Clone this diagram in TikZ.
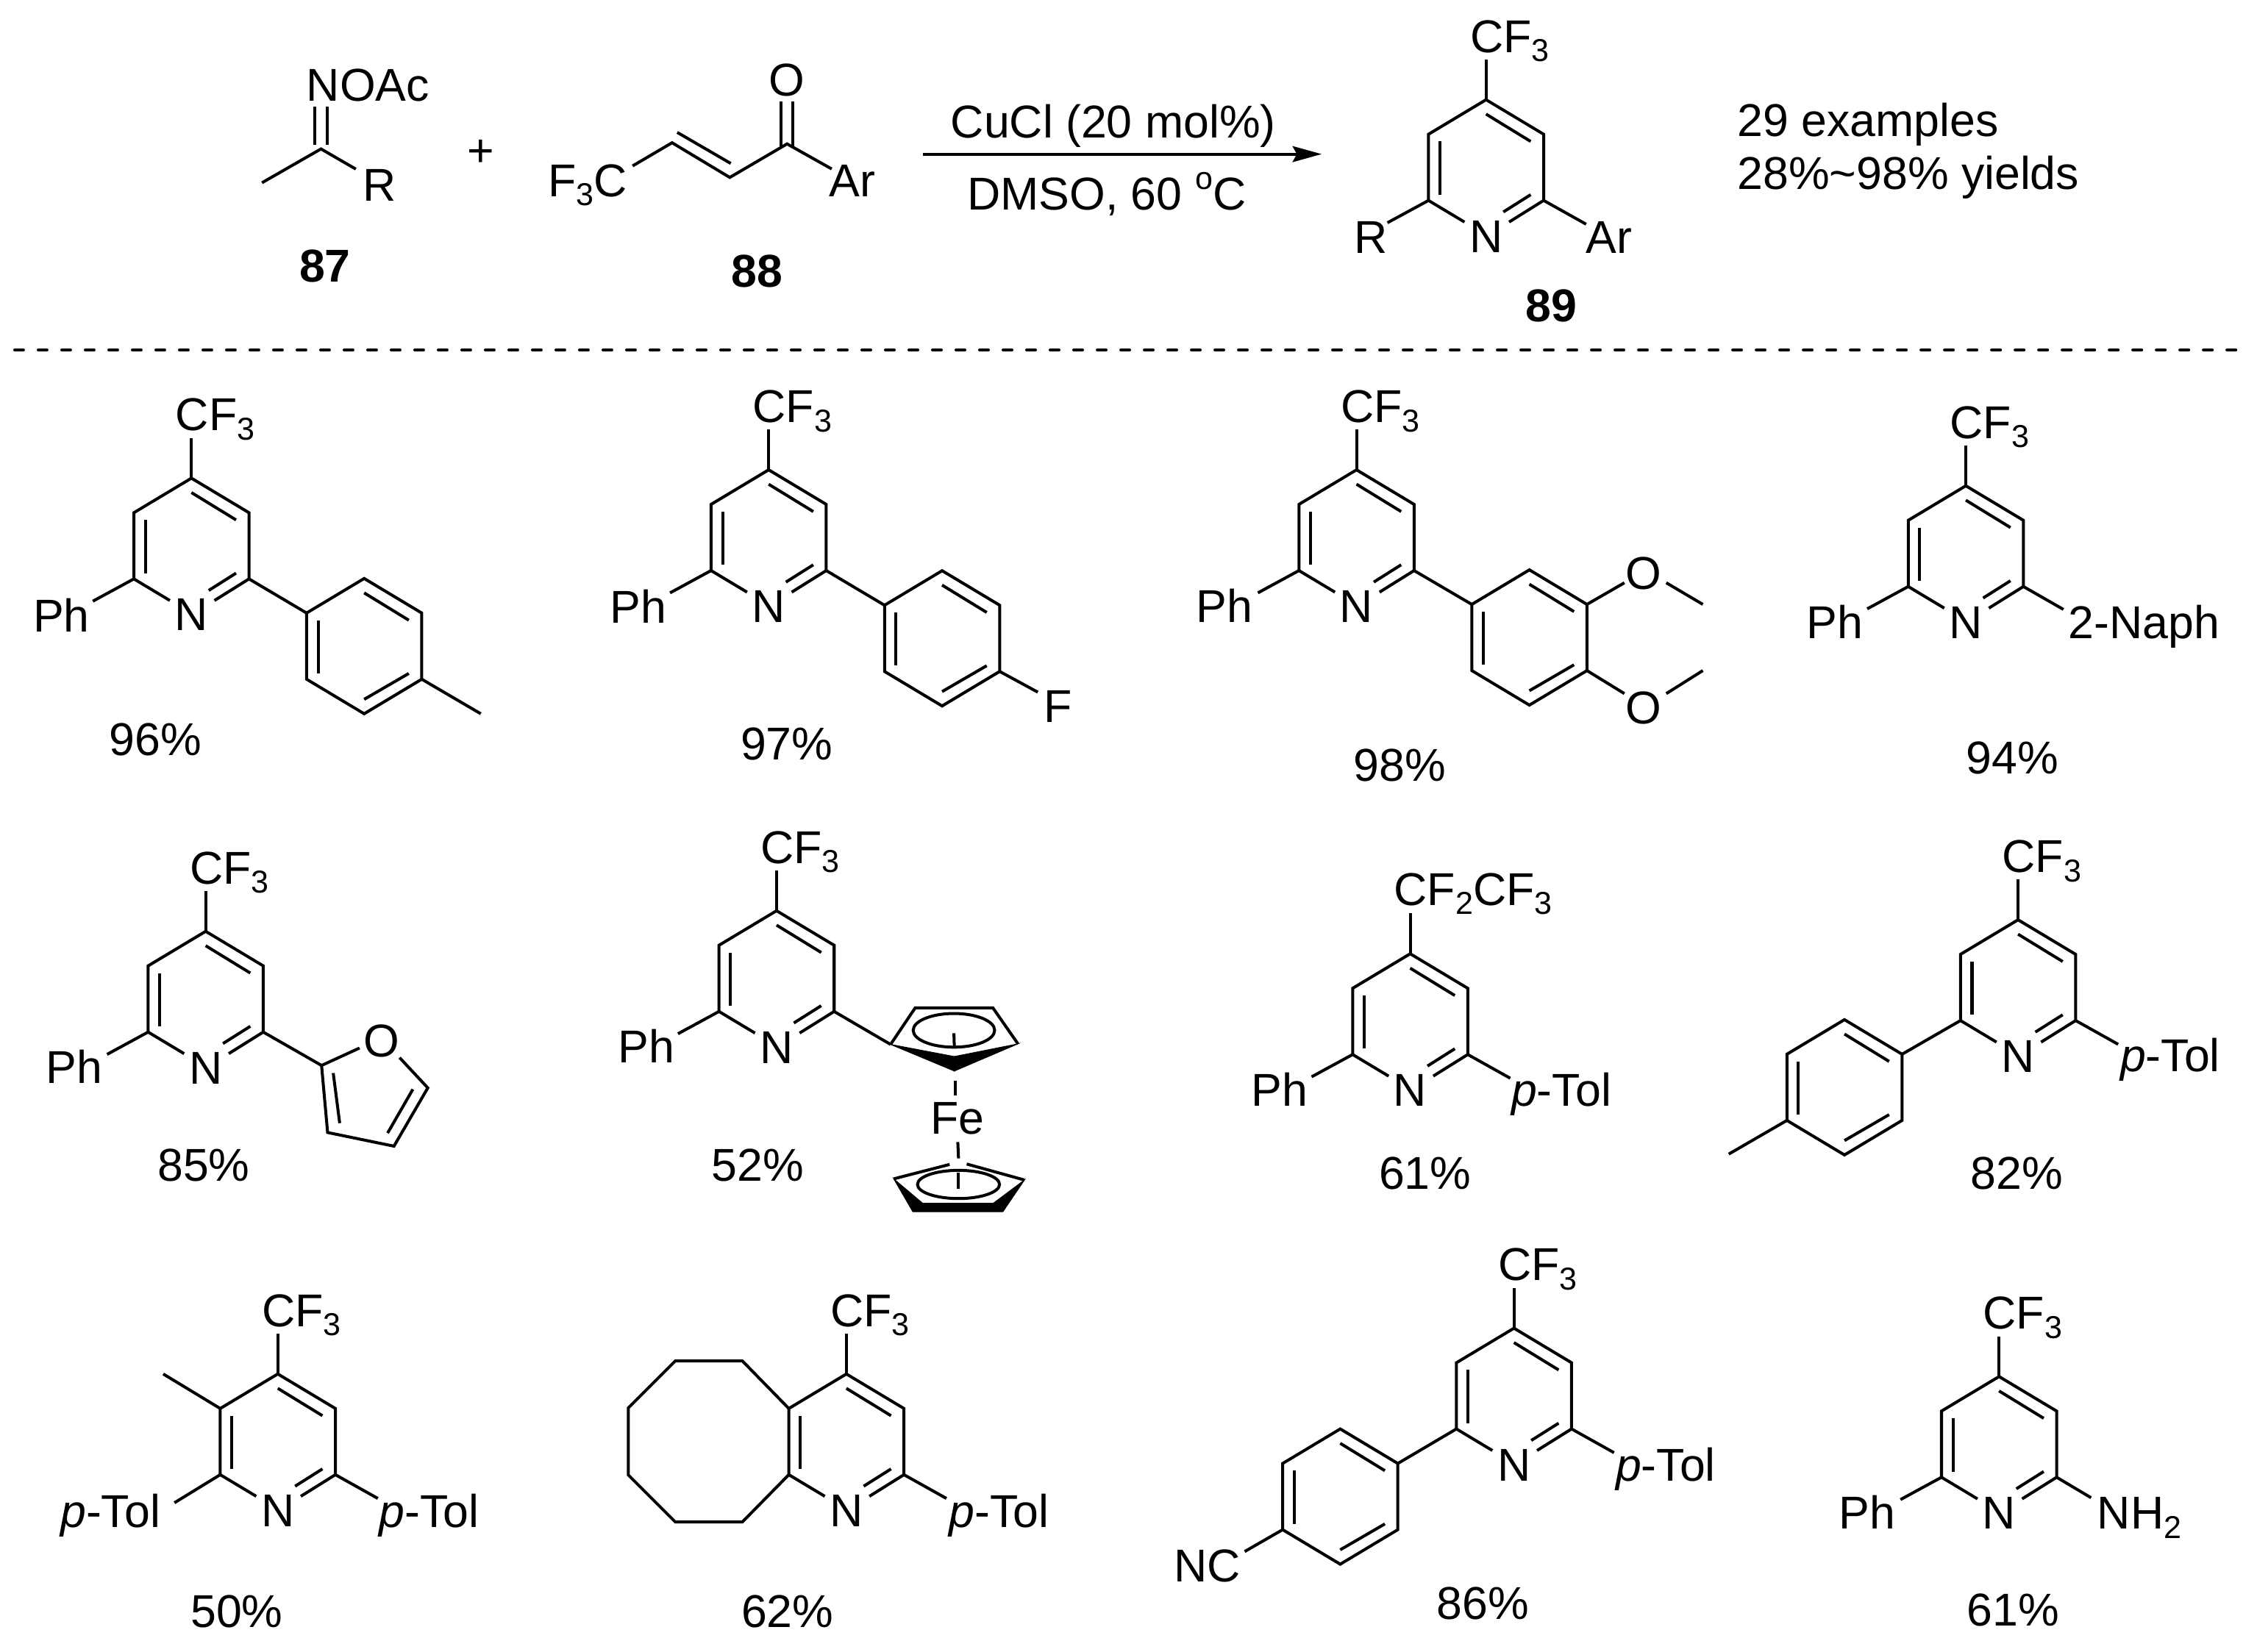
\documentclass[tikz,border=0pt]{standalone}
\usepackage{fontspec}
\setmainfont{Liberation Sans}
\usetikzlibrary{arrows.meta}
\newcommand{\sbs}[1]{\raisebox{-6.5pt}{\fontsize{22}{22}\selectfont #1}}
\newcommand{\sps}[1]{\raisebox{14.5pt}{\fontsize{22}{22}\selectfont #1}}
\tikzset{
  bondl/.style={line width=2.05pt,line join=miter,draw=black},
  lab/.style={inner sep=0pt,outer sep=0pt,anchor=base west,text=black,font=\fontsize{32}{36}\selectfont},
  boldlab/.style={lab,font=\fontsize{32}{36}\selectfont\bfseries},
  wedge/.style={fill=black,draw=black,line width=0.5pt,line join=miter},
}
% pyridine ring: prefix, x and y of the top carbon
\newcommand{\Ring}[3]{%
  \begin{scope}[shift={(#2,#3)}]
    \coordinate (#1a) at (0,0);
    \coordinate (#1b) at (40,24);
    \coordinate (#1c) at (40,70);
    \coordinate (#1e) at (-40,70);
    \coordinate (#1f) at (-40,24);
    \coordinate (#1p) at (0,10);
    \coordinate (#1q) at (31,29);
    \coordinate (#1r) at (-32,29);
    \coordinate (#1s) at (-32,66);
    \coordinate (#1t) at (31,66);
    \coordinate (#1u) at (12,78);
    \coordinate (#1l) at (-15,85);
    \coordinate (#1m) at (16,85);
    \coordinate (#1sl) at (-68.5,85.5);
    \coordinate (#1sr) at (69.5,86.5);
    \draw[bondl] (#1e)--(#1f)--(#1a)--(#1b)--(#1c);
    \draw[bondl] (#1p)--(#1q);
    \draw[bondl] (#1r)--(#1s);
    \draw[bondl] (#1t)--(#1u);
    \draw[bondl] (#1e)--(#1l);
    \draw[bondl] (#1c)--(#1m);
    \node[lab,anchor=base] (#1N) at (0,106) {N};
  \end{scope}}
% CF3 group on the top carbon
\newcommand{\Cft}[1]{%
  \node[lab] (#1cf) at ([shift={(-11,-33)}]#1a) {CF\sbs{3}};
  \coordinate (#1g) at ([shift={(0,-28)}]#1a);
  \draw[bondl] (#1g)--(#1a);}
% benzene ring: prefix, x and y of the top vertex
\newcommand{\Benz}[3]{%
  \begin{scope}[shift={(#2,#3)}]
    \coordinate (#1a) at (0,0);
    \coordinate (#1b) at (40,24);
    \coordinate (#1c) at (40,70);
    \coordinate (#1d) at (0,94);
    \coordinate (#1e) at (-40,70);
    \coordinate (#1f) at (-40,24);
    \coordinate (#1p) at (0,10);
    \coordinate (#1q) at (31,29);
    \coordinate (#1r) at (-32,29);
    \coordinate (#1s) at (-32,66);
    \coordinate (#1t) at (31,66);
    \coordinate (#1u) at (0,84);
    \draw[bondl] (#1a)--(#1b)--(#1c)--(#1d)--(#1e)--(#1f)--cycle;
    \draw[bondl] (#1p)--(#1q);
    \draw[bondl] (#1r)--(#1s);
    \draw[bondl] (#1t)--(#1u);
  \end{scope}}
\begin{document}
\begin{tikzpicture}[x=1pt,y=-1pt]
\useasboundingbox (0,0) rectangle (1568,1148);
\fill[white] (0,0) rectangle (1568,1148);

% ---------- reaction: 87
\node[lab] (noac) at (213,70.5) {NOAc};
\coordinate (k) at (223,103.5);
\coordinate (kme) at (182,127);
\coordinate (kr) at (247.2,117.5);
\coordinate (kn1) at (218.6,74);
\coordinate (kn1b) at (218.6,100.5);
\coordinate (kn2) at (227.4,74);
\coordinate (kn2b) at (227.4,100.5);
\draw[bondl] (kme)--(k)--(kr);
\draw[bondl] (kn1)--(kn1b);
\draw[bondl] (kn2)--(kn2b);
\node[lab] (kR) at (252,139.5) {R};
\node[boldlab] (l87) at (208,196) {87};
\node[inner sep=0pt,font=\fontsize{32}{36}\selectfont] (plus) at (334,106.5) {+};

% ---------- reaction: 88
\node[lab] (fc) at (381,136.5) {F\sbs{3}C};
\coordinate (e0) at (439.5,115.3);
\coordinate (e1) at (466.9,99.2);
\coordinate (e2) at (507,123.3);
\coordinate (e3) at (546.8,100);
\coordinate (e4) at (577.8,117.4);
\coordinate (e5) at (470.5,92);
\coordinate (e6) at (507.7,113.6);
\coordinate (o1a) at (542.6,70.4);
\coordinate (o1b) at (542.6,102.5);
\coordinate (o2a) at (551,70.4);
\coordinate (o2b) at (551,102.5);
\draw[bondl] (e0)--(e1)--(e2)--(e3)--(e4);
\draw[bondl] (e5)--(e6);
\draw[bondl] (o1a)--(o1b);
\draw[bondl] (o2a)--(o2b);
\node[lab,anchor=base] (eO) at (546.8,66.5) {O};
\node[lab] (eAr) at (576,136.5) {Ar};
\node[boldlab] (l88) at (508,199.5) {88};

% ---------- arrow and conditions
\coordinate (arrS) at (641,107.1);
\coordinate (arrE) at (918.2,107.1);
\draw[line width=2.05pt,-{Stealth[length=20.2pt,width=11pt,inset=3pt]}] (arrS)--(arrE);
\node[lab] (cond1) at (660.5,96) {CuCl (20 mol\%)};
\node[lab] (cond2) at (672,146) {DMSO, 60 \sps{o}C};

% ---------- product 89
\Ring{p}{1032.4}{69.3}
\Cft{p}
\draw[bondl] (pe)--(psl);
\draw[bondl] (pc)--(psr);
\node[lab] (pR) at (941,176) {R};
\node[lab] (pAr) at (1102,176) {Ar};
\node[boldlab] (l89) at (1060,223.5) {89};
\node[lab] (ex1) at (1207,95) {29 examples};
\node[lab] (ex2) at (1207,131.5) {28\%\textasciitilde98\% yields};

\coordinate (dl) at (10.2,243.2);
\coordinate (dr) at (1560,243.2);
\draw[line width=2.05pt,line cap=round,dash pattern=on 6.1pt off 10.25pt] (dl)--(dr);

% ---------- row 1
\Ring{a}{133}{332.3}
\Cft{a}
\draw[bondl] (ae)--(asl);
\node[lab] (aPh) at (23,439) {Ph};
\Benz{ab}{253}{402}
\draw[bondl] (ac)--(abf);
\coordinate (ame) at (334,496);
\draw[bondl] (abc)--(ame);
\node[lab] (ay) at (76,525) {96\%};

\Ring{b}{534}{326.5}
\Cft{b}
\draw[bondl] (be)--(bsl);
\node[lab] (bPh) at (424,433) {Ph};
\Benz{bb}{654.5}{396.6}
\draw[bondl] (bc)--(bbf);
\coordinate (bfe) at (721,481);
\draw[bondl] (bbc)--(bfe);
\node[lab] (bF) at (725,502) {F};
\node[lab] (by) at (514.5,528) {97\%};

\Ring{c}{942.4}{326.5}
\Cft{c}
\draw[bondl] (ce)--(csl);
\node[lab] (cPh) at (831,432.5) {Ph};
\Benz{cb}{1062.5}{396}
\draw[bondl] (cc)--(cbf);
\coordinate (co1) at (1128.5,405);
\coordinate (co1m) at (1157.6,405);
\coordinate (cme1) at (1183,420);
\coordinate (co2) at (1128.5,482);
\coordinate (co2m) at (1157.6,482);
\coordinate (cme2) at (1183,466);
\draw[bondl] (cbb)--(co1);
\draw[bondl] (co1m)--(cme1);
\draw[bondl] (cbc)--(co2);
\draw[bondl] (co2m)--(cme2);
\node[lab,anchor=base] (cO1) at (1142,409.5) {O};
\node[lab,anchor=base] (cO2) at (1142,503) {O};
\node[lab] (cy) at (940.5,543) {98\%};

\Ring{d}{1365.7}{337.6}
\Cft{d}
\draw[bondl] (de)--(dsl);
\coordinate (dna) at (1433.5,423.5);
\draw[bondl] (dc)--(dna);
\node[lab] (dPh) at (1255,443.5) {Ph};
\node[lab] (dNa) at (1437,443.5) {2-Naph};
\node[lab] (dy) at (1366,537.5) {94\%};

% ---------- row 2
\Ring{e}{142.9}{647.2}
\Cft{e}
\draw[bondl] (ee)--(esl);
\node[lab] (ePh) at (32,753) {Ph};
\coordinate (f2) at (223.4,740.4);
\coordinate (f2o) at (249.8,728.3);
\coordinate (f5o) at (277.6,735);
\coordinate (f5) at (297.2,756);
\coordinate (f4) at (273.7,796.5);
\coordinate (f3) at (227.6,787);
\coordinate (f6) at (231.5,745.7);
\coordinate (f7) at (236,780.5);
\coordinate (f8) at (286.8,757);
\coordinate (f9) at (269.3,787.4);
\draw[bondl] (ec)--(f2);
\draw[bondl] (f2o)--(f2)--(f3)--(f4)--(f5)--(f5o);
\draw[bondl] (f6)--(f7);
\draw[bondl] (f8)--(f9);
\node[lab,anchor=base] (eO) at (264.9,734.2) {O};
\node[lab] (ey) at (109.5,821) {85\%};

\Ring{g}{539.5}{632.9}
\Cft{g}
\draw[bondl] (ge)--(gsl);
\node[lab] (gPh) at (429.5,738.5) {Ph};
\coordinate (t1) at (618.7,725.8);
\coordinate (t2) at (635.8,700.4);
\coordinate (t3) at (689.8,700.4);
\coordinate (t4) at (707.2,725.4);
\coordinate (t5) at (663,744.3);
\coordinate (t6) at (663,734.2);
\coordinate (t7) at (662.7,716);
\coordinate (t8) at (662.7,718);
\coordinate (t9) at (663,727.7);
\draw[bondl] (gc)--(t1);
\draw[bondl] (t1)--(t2)--(t3)--(t4);
\fill[wedge] (t1)--(t6)--(t5)--cycle;
\fill[wedge] (t4)--(t6)--(t5)--cycle;
\draw[bondl] (t7) ellipse [x radius=28.3,y radius=11.7];
\draw[bondl] (t8)--(t9);
\coordinate (fa) at (663.8,751.2);
\coordinate (fb) at (663.8,761);
\coordinate (fc2) at (665.4,793.6);
\coordinate (fd) at (665.9,805);
\draw[bondl] (fa)--(fb);
\draw[bondl] (fc2)--(fd);
\node[lab] (gFe) at (646.5,788.3) {Fe};
\coordinate (u1) at (620.9,819.2);
\coordinate (u2) at (659.7,809.2);
\coordinate (u3) at (671.6,808.9);
\coordinate (u4) at (711.7,820);
\coordinate (u5) at (696.7,842.1);
\coordinate (u6) at (634.2,842.1);
\coordinate (u7) at (690,836.2);
\coordinate (u8) at (641,836.2);
\coordinate (u9) at (665.9,823.1);
\coordinate (u10) at (665.9,814.7);
\coordinate (u11) at (665.9,825.9);
\draw[bondl] (u2)--(u1);
\draw[bondl] (u3)--(u4);
\fill[wedge] (u1)--(u6)--(u5)--(u4)--(u7)--(u8)--cycle;
\draw[bondl] (u9) ellipse [x radius=28.5,y radius=9.8];
\draw[bondl] (u10)--(u11);
\node[lab] (gy) at (494.5,821) {52\%};

\Ring{h}{979.7}{662.8}
\node[lab] (hcf) at (968.5,629) {CF\sbs{2}CF\sbs{3}};
\coordinate (hg) at (979.7,634.3);
\draw[bondl] (hg)--(ha);
\draw[bondl] (he)--(hsl);
\draw[bondl] (hc)--(hsr);
\node[lab] (hPh) at (869.5,768.8) {Ph};
\node[lab] (hTol) at (1050,768.8) {\textit{p}-Tol};
\node[lab] (hy) at (958,826.4) {61\%};

\Ring{i}{1402}{639.2}
\Cft{i}
\draw[bondl] (ic)--(isr);
\node[lab] (iTol) at (1473,744.5) {\textit{p}-Tol};
\Benz{ib}{1281.4}{708.6}
\draw[bondl] (ie)--(ibb);
\coordinate (ime) at (1201,802);
\draw[bondl] (ibe)--(ime);
\node[lab] (iy) at (1369,826.4) {82\%};

% ---------- row 3
\Ring{j}{193}{954.8}
\Cft{j}
\coordinate (jme) at (113.4,954.8);
\draw[bondl] (jme)--(jf);
\coordinate (jl) at (121.2,1044.3);
\draw[bondl] (je)--(jl);
\draw[bondl] (jc)--(jsr);
\node[lab] (jTa) at (42,1061.3) {\textit{p}-Tol};
\node[lab] (jTb) at (263.5,1061.3) {\textit{p}-Tol};
\node[lab] (jy) at (132.5,1131) {50\%};

\Ring{l}{588}{954.8}
\Cft{l}
\coordinate (o1) at (515.7,945.7);
\coordinate (o2) at (469.2,945.7);
\coordinate (o3) at (436.5,978.4);
\coordinate (o4) at (436.5,1025);
\coordinate (o5) at (469.2,1057.7);
\coordinate (o6) at (515.7,1057.7);
\draw[bondl] (lf)--(o1)--(o2)--(o3)--(o4)--(o5)--(o6)--(le);
\draw[bondl] (lc)--(lsr);
\node[lab] (lTol) at (659.5,1061.3) {\textit{p}-Tol};
\node[lab] (ly) at (515,1131) {62\%};

\Ring{m}{1051.8}{923}
\Cft{m}
\draw[bondl] (mc)--(msr);
\node[lab] (mTol) at (1122.5,1029.2) {\textit{p}-Tol};
\Benz{mb}{931.1}{993}
\draw[bondl] (me)--(mbb);
\coordinate (mcn) at (864.7,1078.2);
\draw[bondl] (mbe)--(mcn);
\node[lab] (mNC) at (815.5,1099) {NC};
\node[lab] (my) at (998,1125.5) {86\%};

\Ring{n}{1388.8}{956.6}
\Cft{n}
\draw[bondl] (ne)--(nsl);
\coordinate (nna) at (1452.7,1040.8);
\draw[bondl] (nc)--(nna);
\node[lab] (nPh) at (1277.5,1062.5) {Ph};
\node[lab] (nNH) at (1457,1062.5) {NH\sbs{2}};
\node[lab] (ny) at (1366.5,1130) {61\%};
\end{tikzpicture}
\end{document}
